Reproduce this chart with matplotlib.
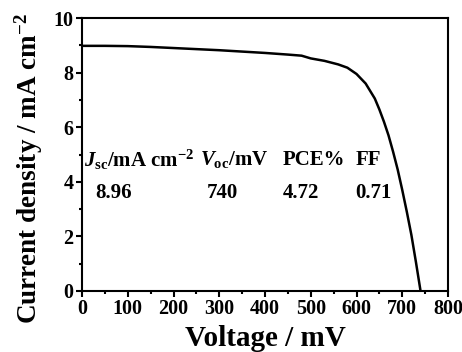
import numpy as np
import matplotlib.pyplot as plt
from matplotlib.ticker import MultipleLocator

# J-V curve
voltage = [0, 50, 100, 150, 200, 250, 300, 350, 400, 450, 480, 500, 530, 560,
           580, 600, 620, 640, 650, 660, 670, 680, 690, 700, 710, 720, 730, 740]
current = [8.98, 8.98, 8.97, 8.94, 8.9, 8.86, 8.82, 8.77, 8.72, 8.66, 8.62, 8.52,
           8.43, 8.3, 8.18, 7.95, 7.6, 7.05, 6.65, 6.2, 5.7, 5.1, 4.45, 3.7,
           2.9, 2.05, 1.05, 0.0]

headers = [r'$J_{\mathrm{sc}}$/mA cm$^{-2}$', r'$V_{\mathrm{oc}}$/mV', 'PCE%', 'FF']
values = ['8.96', '740', '4.72', '0.71']

plt.rcParams['font.family'] = 'Liberation Serif'
plt.rcParams['font.weight'] = 'bold'
plt.rcParams['axes.labelweight'] = 'bold'
plt.rcParams['mathtext.fontset'] = 'custom'
plt.rcParams['mathtext.rm'] = 'Liberation Serif:bold'
plt.rcParams['mathtext.it'] = 'Liberation Serif:italic:bold'
plt.rcParams['mathtext.bf'] = 'Liberation Serif:bold'

fig = plt.figure(figsize=(4.62, 3.52), dpi=100)
ax = fig.add_axes([82 / 462, 1 - 291 / 352, 366 / 462, 273 / 352])

ax.plot(voltage, current, color='black', lw=1.8)

ax.set_xlim(0, 800)
ax.set_ylim(0, 10)
ax.xaxis.set_major_locator(MultipleLocator(100))
ax.xaxis.set_minor_locator(MultipleLocator(50))
ax.yaxis.set_major_locator(MultipleLocator(2))
ax.yaxis.set_minor_locator(MultipleLocator(1))
ax.tick_params(which='both', direction='out', top=False, right=False,
               labelsize=14.5, width=1.5)
ax.tick_params(which='major', length=4, pad=2)
ax.tick_params(which='minor', length=2.5)
for s in ax.spines.values():
    s.set_linewidth(1.5)

ax.set_xlabel('Voltage / mV', fontsize=21, labelpad=4)
ax.set_ylabel(r'Current density / mA cm$^{-2}$', fontsize=19.5)
ax.yaxis.set_label_coords(-0.1, 0.45)

hx = [5, 258, 439, 597]
vx = [30, 273, 439, 597]
for x, h in zip(hx, headers):
    ax.text(x, 4.8, h, fontsize=15, ha='left', va='center')
for x, v in zip(vx, values):
    ax.text(x, 3.6, v, fontsize=15, ha='left', va='center')

fig.savefig('out.png', dpi=100)
